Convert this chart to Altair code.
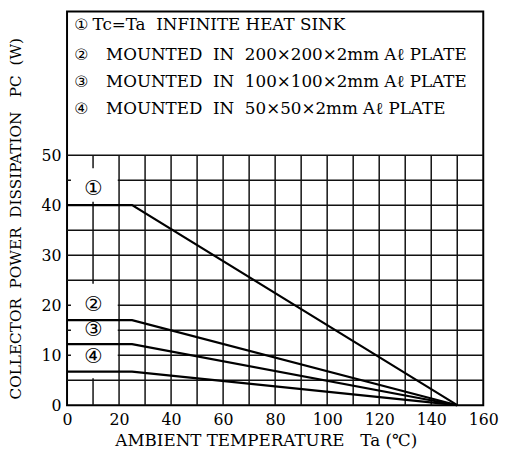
import altair as alt
import pandas as pd

# ---- data ----
temps = [0, 25, 150]
pc_1 = [40, 40, 0]
pc_2 = [17, 17, 0]
pc_3 = [12.2, 12.2, 0]
pc_4 = [6.7, 6.7, 0]
curve_ids = ["1", "2", "3", "4"]
curve_marks = ["①", "②", "③", "④"]
curve_label_y = [43.3, 20.0, 15.0, 9.6]
curve_label_x = [10.2, 10.2, 10.2, 10.2]

NB = "\u00a0"
legend_marks = ["①", "②", "③", "④"]
legend_texts = [
    "Tc=Ta" + NB * 2 + "INFINITE" + NB + "HEAT" + NB + "SINK",
    "MOUNTED" + NB * 2 + "IN" + NB * 2 + "200×200×2mm" + NB + "Aℓ" + NB + "PLATE",
    "MOUNTED" + NB * 2 + "IN" + NB * 2 + "100×100×2mm" + NB + "Aℓ" + NB + "PLATE",
    "MOUNTED" + NB * 2 + "IN" + NB * 2 + "50×50×2mm" + NB + "Aℓ" + NB + "PLATE",
]
legend_y = [76.0, 70.1, 64.6, 59.3]
legend_text_x = [9.8, 15.0, 15.0, 15.0]
legend_mark_x = [2.8, 2.8, 2.8, 2.8]

x_ticks = [0, 20, 40, 60, 80, 100, 120, 140, 160]
y_ticks = [0, 10, 20, 30, 40, 50]
v_grid = [10, 20, 30, 40, 50, 60, 70, 80, 90, 100, 110, 120, 130, 140, 150]
h_grid = [5, 10, 15, 20, 25, 30, 35, 40, 45, 50]

# masks where the grid is broken around the curve labels
mask_x = [1.5, 1.5]
mask_x2 = [19.5, 19.5]
mask_y = [40.7, 5.4]
mask_y2 = [47.4, 24.3]

FONT = "DejaVu Serif"
X_MAX = 160
Y_MAX = 78.7

xs = alt.Scale(domain=[0, X_MAX], nice=False, zero=False)
ys = alt.Scale(domain=[0, Y_MAX], nice=False, zero=False)

x_axis = alt.Axis(
    values=x_ticks,
    grid=False,
    ticks=False,
    domain=False,
    labelFont=FONT,
    labelFontSize=16,
    labelColor="black",
    labelPadding=7,
    labelFlush=False,
    title="AMBIENT" + NB + "TEMPERATURE" + NB * 3 + "Ta" + NB + "(℃)",
    titleFont=FONT,
    titleFontSize=17,
    titleFontWeight="normal",
    titleColor="black",
    titleX=202,
    titleY=36,
    titleAlign="center",
    titleBaseline="middle",
)
y_axis = alt.Axis(
    values=y_ticks,
    grid=False,
    ticks=False,
    domain=False,
    labelFont=FONT,
    labelFontSize=16,
    labelColor="black",
    labelPadding=6,
    labelFlush=False,
    title="COLLECTOR" + NB * 2 + "POWER" + NB * 2 + "DISSIPATION" + NB * 3 + "PC" + NB * 2 + "(W)",
    titleFont=FONT,
    titleFontSize=15.5,
    titleFontWeight="normal",
    titleColor="black",
    titleAngle=270,
    titleX=-52,
    titleY=210,
    titleAlign="center",
    titleBaseline="middle",
)

series = {"1": pc_1, "2": pc_2, "3": pc_3, "4": pc_4}
rows = []
for cid in curve_ids:
    for t, p in zip(temps, series[cid]):
        rows.append({"curve": cid, "Ta": t, "Pc": p})
df_curves = pd.DataFrame(rows)

df_v = pd.DataFrame({"Ta": v_grid, "Pc": [0] * len(v_grid), "y1": [50] * len(v_grid)})
df_h = pd.DataFrame({"Pc": h_grid, "Ta": [0] * len(h_grid), "x1": [X_MAX] * len(h_grid)})
df_mask = pd.DataFrame({"Ta": mask_x, "x2": mask_x2, "Pc": mask_y, "y2": mask_y2})
df_clab = pd.DataFrame({"t": curve_marks, "Ta": curve_label_x, "Pc": curve_label_y})
df_lm = pd.DataFrame({"t": legend_marks, "Ta": legend_mark_x, "Pc": legend_y})
df_lt = pd.DataFrame({"t": legend_texts, "Ta": legend_text_x, "Pc": legend_y})

X = alt.X("Ta:Q", scale=xs, axis=x_axis)
Y = alt.Y("Pc:Q", scale=ys, axis=y_axis)

vgrid = alt.Chart(df_v).mark_rule(color="#111", strokeWidth=1.5).encode(x=X, y=Y, y2="y1:Q")
hgrid = alt.Chart(df_h).mark_rule(color="#111", strokeWidth=1.5).encode(y=Y, x=X, x2="x1:Q")
mask = alt.Chart(df_mask).mark_rect(color="white").encode(x=X, x2="x2:Q", y=Y, y2="y2:Q")

lines = alt.Chart(df_curves).mark_line(color="black", strokeWidth=2.2).encode(
    x=X, y=Y, detail="curve:N"
)

clab = alt.Chart(df_clab).mark_text(font="DejaVu Sans", fontSize=21, color="black").encode(
    x=X, y=Y, text="t:N"
)
lmark = alt.Chart(df_lm).mark_text(
    font="DejaVu Sans", fontSize=16, color="black", align="left", baseline="middle"
).encode(x=X, y=Y, text="t:N")
ltext = alt.Chart(df_lt).mark_text(
    font=FONT, fontSize=17, color="black", align="left", baseline="middle"
).encode(x=X, y=Y, text="t:N")

chart = (
    alt.layer(vgrid, hgrid, mask, lines, clab, lmark, ltext)
    .properties(
        width=423,
        height=400,
        autosize=alt.AutoSizeParams(type="none"),
        padding={"left": 60, "top": 0, "right": 16, "bottom": 50},
        background="white",
    )
    .configure_view(stroke="black", strokeWidth=2)
)

chart.save("out.html", embed_options={"renderer": "svg", "actions": False})
